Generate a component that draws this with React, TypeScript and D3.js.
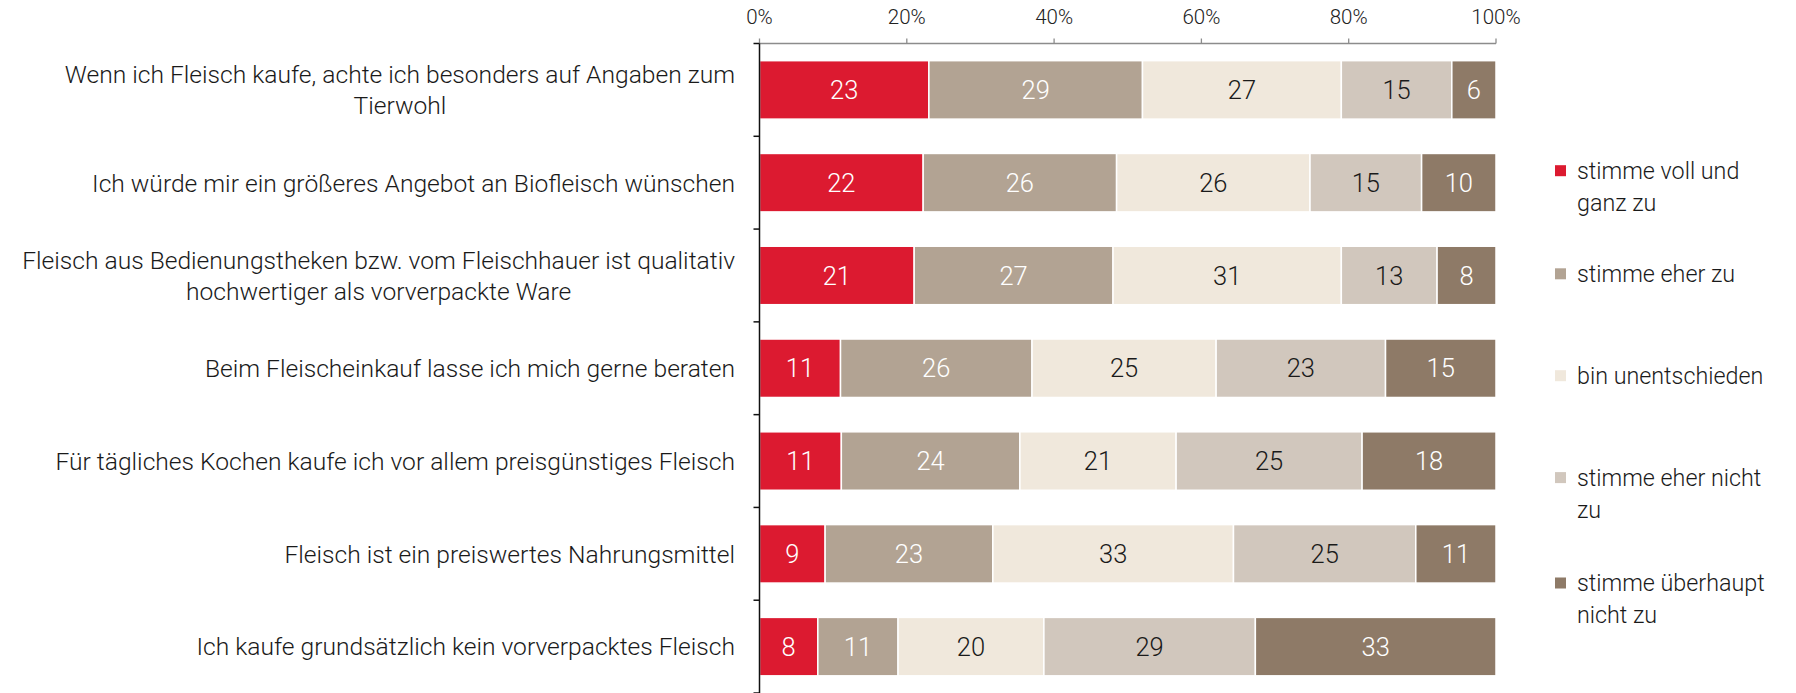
import React, { useEffect, useRef } from "react";
import * as d3 from "d3";

const categories: string[][] = [
  ["Wenn ich Fleisch kaufe, achte ich besonders auf Angaben zum", "Tierwohl"],
  ["Ich würde mir ein größeres Angebot an Biofleisch wünschen"],
  ["Fleisch aus Bedienungstheken bzw. vom Fleischhauer ist qualitativ", "hochwertiger als vorverpackte Ware"],
  ["Beim Fleischeinkauf lasse ich mich gerne beraten"],
  ["Für tägliches Kochen kaufe ich vor allem preisgünstiges Fleisch"],
  ["Fleisch ist ein preiswertes Nahrungsmittel"],
  ["Ich kaufe grundsätzlich kein vorverpacktes Fleisch"],
];

const seriesNames: string[][] = [
  ["stimme voll und", "ganz zu"],
  ["stimme eher zu"],
  ["bin unentschieden"],
  ["stimme eher nicht", "zu"],
  ["stimme überhaupt", "nicht zu"],
];

const vollUndGanz = [23, 22, 21, 11, 11, 9, 8];
const eherZu = [29, 26, 27, 26, 24, 23, 11];
const unentschieden = [27, 26, 31, 25, 21, 33, 20];
const eherNicht = [15, 15, 13, 23, 25, 25, 29];
const ueberhauptNicht = [6, 10, 8, 15, 18, 11, 33];

const tickValues = [0, 20, 40, 60, 80, 100];

const colors = ["#DC1A30", "#B2A393", "#F0E8DC", "#D1C7BD", "#8E7A67"];
const labelColors = ["#ffffff", "#ffffff", "#1a1a1a", "#1a1a1a", "#ffffff"];

const W = 1796;
const H = 693;
const FONT = "Roboto, 'Open Sans', sans-serif";

export default function App() {
  const ref = useRef<SVGSVGElement | null>(null);

  useEffect(() => {
    const svg = d3.select(ref.current);
    svg.selectAll("*").remove();

    const x0 = 759.5;
    const x1 = 1496;
    const top = 43.5;
    const bottom = H;

    const x = d3.scaleLinear().domain([0, 100]).range([x0, x1]);
    const y = d3
      .scaleBand<number>()
      .domain(d3.range(categories.length))
      .range([top, bottom])
      .paddingInner(0.37)
      .paddingOuter(0.185);

    const series = [vollUndGanz, eherZu, unentschieden, eherNicht, ueberhauptNicht];

    // bars
    categories.forEach((_, i) => {
      const vals = series.map((s) => s[i]);
      const total = d3.sum(vals);
      let cum = 0;
      vals.forEach((v, k) => {
        const start = (cum / total) * 100;
        cum += v;
        const end = (cum / total) * 100;
        const g = svg.append("g");
        g.append("rect")
          .attr("x", x(start))
          .attr("y", y(i)!)
          .attr("width", x(end) - x(start))
          .attr("height", y.bandwidth())
          .attr("fill", colors[k])
          .attr("stroke", "#ffffff")
          .attr("stroke-width", 1.5);
        g.append("text")
          .attr("x", (x(start) + x(end)) / 2)
          .attr("y", y(i)! + y.bandwidth() / 2)
          .attr("dy", "0.36em")
          .attr("text-anchor", "middle")
          .attr("font-family", FONT)
          .attr("font-weight", 300)
          .attr("font-size", 25.5)
          .attr("fill", labelColors[k])
          .text(String(v));
      });
    });

    // top axis
    const axisG = svg.append("g");
    axisG
      .append("line")
      .attr("x1", x0)
      .attr("x2", x1)
      .attr("y1", top)
      .attr("y2", top)
      .attr("stroke", "#8c8c8c")
      .attr("stroke-width", 1.3);
    tickValues.forEach((t) => {
      axisG
        .append("line")
        .attr("x1", x(t))
        .attr("x2", x(t))
        .attr("y1", top)
        .attr("y2", top - 5)
        .attr("stroke", "#8c8c8c")
        .attr("stroke-width", 1.3);
      axisG
        .append("text")
        .attr("x", x(t))
        .attr("y", 17)
        .attr("dy", "0.36em")
        .attr("text-anchor", "middle")
        .attr("font-family", FONT)
        .attr("font-weight", 300)
        .attr("font-size", 20.5)
        .attr("fill", "#222")
        .text(`${t}%`);
    });

    // left axis
    const bandStep = y.step();
    svg
      .append("line")
      .attr("x1", x0)
      .attr("x2", x0)
      .attr("y1", top)
      .attr("y2", bottom)
      .attr("stroke", "#111")
      .attr("stroke-width", 1.5);
    d3.range(categories.length + 1).forEach((k) => {
      const yy = top + k * bandStep;
      svg
        .append("line")
        .attr("x1", x0 - 6)
        .attr("x2", x0)
        .attr("y1", yy)
        .attr("y2", yy)
        .attr("stroke", "#111")
        .attr("stroke-width", 1.5);
    });

    // category labels
    const labelRight = 735;
    const lineH = 31;
    categories.forEach((lines, i) => {
      const cy = y(i)! + y.bandwidth() / 2;
      const g = svg.append("g");
      const texts = lines.map((ln, j) =>
        g
          .append("text")
          .attr("y", cy + (j - (lines.length - 1) / 2) * lineH)
          .attr("dy", "0.36em")
          .attr("text-anchor", "middle")
          .attr("font-family", FONT)
          .attr("font-weight", 300)
          .attr("font-size", 24.6)
          .attr("fill", "#1a1a1a")
          .text(ln)
      );
      const widths = texts.map((t) => (t.node() as SVGTextElement).getComputedTextLength());
      const maxW = d3.max(widths) || 0;
      texts.forEach((t) => t.attr("x", labelRight - maxW / 2));
    });

    // legend
    const legendY = [170.7, 273.8, 375.7, 477.6, 583];
    seriesNames.forEach((lines, k) => {
      const g = svg.append("g");
      g.append("rect")
        .attr("x", 1555)
        .attr("y", legendY[k] - 5.5)
        .attr("width", 11)
        .attr("height", 11)
        .attr("fill", colors[k]);
      lines.forEach((ln, j) => {
        g.append("text")
          .attr("x", 1577)
          .attr("y", legendY[k] + j * 32)
          .attr("dy", "0.36em")
          .attr("font-family", FONT)
          .attr("font-weight", 300)
          .attr("font-size", 23.3)
          .attr("fill", "#1a1a1a")
          .text(ln);
      });
    });
  }, []);

  return (
    <svg
      ref={ref}
      width={W}
      height={H}
      style={{ display: "block", position: "absolute", left: 0, top: 0 }}
    />
  );
}
